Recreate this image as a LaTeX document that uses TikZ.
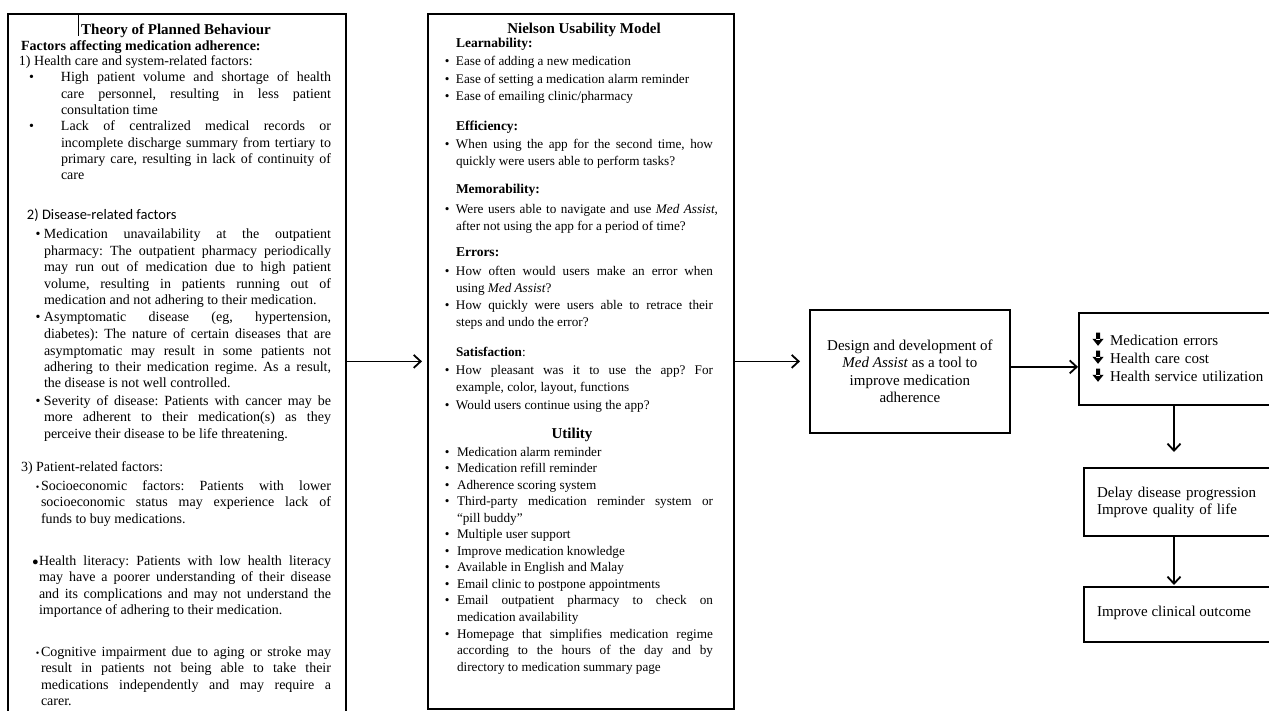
\documentclass[tikz,border=0pt]{standalone}
\usepackage{fontspec}
\setmainfont{Liberation Serif}
\newfontfamily\calib{Carlito}
\usetikzlibrary{arrows.meta,calc}
\newcommand\mybul[1]{\leavevmode\llap{•\hspace{#1}}}
\newcommand\mysbul[1]{\leavevmode\llap{{\fontsize{10}{10}\selectfont •}\hspace{#1}}}
\newcommand\mybbul[1]{\leavevmode\llap{{\fontsize{11}{11}\selectfont ●}\hspace{#1}}}
\newcommand\mydarr[2]{\fill[shift={(#1,#2)}] (-2,-12.5) rectangle (2,-5) (-5.6,-6.2) -- (5.6,-6.2) -- (0,0.8) -- cycle;}
\tikzset{
  box/.style={draw, line width=1.8pt, inner sep=0pt, anchor=north west},
  arr/.style={line width=1.8pt, -{Straight Barb[length=7pt,width=13pt]}},
  tx/.style={inner sep=0pt, outer sep=0pt, anchor=base west,
    execute at begin node={\frenchspacing\tolerance=10000\hbadness=10000\hyphenpenalty=10000\relax}},
  jt/.style={tx, text width=#1, align=justify},
  lf/.style={font=\fontsize{14}{16.5}\selectfont},
  mf/.style={font=\fontsize{13.2}{17}\selectfont},
  hd/.style={font=\fontsize{13.5}{17}\selectfont\bfseries},
  ttl/.style={inner sep=0pt, anchor=base, font=\fontsize{15}{18}\selectfont\bfseries},
  rf/.style={font=\fontsize{15}{18}\selectfont},
}
\begin{document}
\begin{tikzpicture}[x=1pt,y=-1pt]
\useasboundingbox (0,0) rectangle (1269,711);
\fill[white] (0,0) rectangle (1269,711);
\clip (0,0) rectangle (1269,711);

% ---------- boxes
\node[box, minimum width=338pt, minimum height=710pt] (lbox) at (7,13) {};
\node[box, minimum width=306pt, minimum height=695pt] (mbox) at (427,13) {};
\node[box, minimum width=200pt, minimum height=123pt] (dbox) at (809,309) {};
\node[box, minimum width=200pt, minimum height=92pt] (r1) at (1078,312) {};
\node[box, minimum width=200pt, minimum height=68pt] (r2) at (1083,467) {};
\node[box, minimum width=200pt, minimum height=55pt] (r3) at (1083,586) {};

% ---------- connectors
\coordinate (vx) at (1174,0);
\draw[arr] (lbox.east |- mbox.west) -- ($(mbox.west)+(-5,0)$);
\draw[arr] (mbox.east) -- ($(mbox.east -| dbox.west)+(-9,0)$);
\draw[arr] ($(dbox.east)+(0,-4.5)$) -- ($(dbox.east -| r1.west)+(0,-4.5)$);
\draw[arr] (r1.south -| vx) -- ($(r2.north -| vx)+(0,-15)$);
\draw[arr] (r2.south -| vx) -- ($(r3.north -| vx)+(0,-1)$);

% ---------- left box
\node[ttl] (ltitle) at (176,35) {Theory of Planned Behaviour};
\draw[line width=0.8pt] (78,15) -- (78,36);
\node[tx,font=\fontsize{14}{16.5}\selectfont\bfseries] (lfac) at (21,51) {Factors affecting medication adherence:};
\node[tx,lf] (lh1) at (19,66) {1) Health care and system-related factors:};
\node[jt=270pt,font=\fontsize{14}{16.3}\selectfont] (l11) at (61,82) {\mybul{27pt}High patient volume and shortage of health\linebreak care personnel, resulting in less patient\linebreak consultation time};
\node[jt=270pt,font=\fontsize{14}{16.3}\selectfont] (l12) at (61,131) {\mybul{27pt}Lack of centralized medical records or\linebreak incomplete discharge summary from tertiary to\linebreak primary care, resulting in lack of continuity of\linebreak care};
\node[tx,font=\calib\fontsize{14.5}{17}\selectfont] (lh2) at (27,220) {2) Disease-related factors};
\node[jt=287pt,lf] (l21) at (44,239) {\mybul{3.5pt}Medication unavailability at the outpatient\linebreak pharmacy: The outpatient pharmacy periodically\linebreak may run out of medication due to high patient\linebreak volume, resulting in patients running out of\linebreak medication and not adhering to their medication.};
\node[jt=287pt,lf] (l22) at (44,322) {\mybul{3.5pt}Asymptomatic disease (eg, hypertension,\linebreak diabetes): The nature of certain diseases that are\linebreak asymptomatic may result in some patients not\linebreak adhering to their medication regime. As a result,\linebreak the disease is not well controlled.};
\node[jt=287pt,lf] (l23) at (44,405) {\mybul{3.5pt}Severity of disease: Patients with cancer may be\linebreak more adherent to their medication(s) as they\linebreak perceive their disease to be life threatening.};
\node[tx,lf] (lh3) at (21,471) {3) Patient-related factors:};
\node[jt=290pt,lf] (l31) at (41,490) {\mysbul{1.5pt}Socioeconomic factors: Patients with lower\linebreak socioeconomic status may experience lack of\linebreak funds to buy medications.};
\node[jt=292pt,lf] (l32) at (39,565) {\mybbul{0.3pt}Health literacy: Patients with low health literacy\linebreak may have a poorer understanding of their disease\linebreak and its complications and may not understand the\linebreak importance of adhering to their medication.};
\node[jt=290pt,lf] (l33) at (41,656) {\mysbul{1.5pt}Cognitive impairment due to aging or stroke may\linebreak result in patients not being able to take their\linebreak medications independently and may require a\linebreak carer.};

% ---------- middle box
\node[ttl] (mtitle) at (584,34) {Nielson Usability Model};
\node[tx,hd] (mlh) at (456,48) {Learnability:};
\node[jt=257pt,font=\fontsize{13.2}{17.5}\selectfont] (ml) at (456,66) {\mybul{6.5pt}Ease of adding a new medication\par\mybul{6.5pt}Ease of setting a medication alarm reminder\par\mybul{6.5pt}Ease of emailing clinic/pharmacy};
\node[tx,hd] (meh) at (456,131) {Efficiency:};
\node[jt=257pt,mf] (me) at (456,149) {\mybul{6.5pt}When using the app for the second time, how\linebreak quickly were users able to perform tasks?};
\node[tx,hd] (mmh) at (456,194) {Memorability:};
\node[jt=262pt,mf] (mm) at (456,214) {\mybul{6.5pt}Were users able to navigate and use \textit{Med Assist},\linebreak after not using the app for a period of time?};
\node[tx,hd] (merh) at (456,257) {Errors:};
\node[jt=257pt,mf] (mer) at (456,276) {\mybul{6.5pt}How often would users make an error when\linebreak using \textit{Med Assist}?\par\mybul{6.5pt}How quickly were users able to retrace their\linebreak steps and undo the error?};
\node[tx,mf] (msh) at (456,356) {\textbf{Satisfaction}:};
\node[jt=257pt,font=\fontsize{13.2}{17.5}\selectfont] (ms) at (456,374) {\mybul{6.5pt}How pleasant was it to use the app? For\linebreak example, color, layout, functions\par\mybul{6.5pt}Would users continue using the app?};
\node[ttl] (mutil) at (572,438) {Utility};
\node[jt=256pt,font=\fontsize{13.2}{16.55}\selectfont] (mu) at (457,456) {\mybul{7.5pt}Medication alarm reminder\par
\mybul{7.5pt}Medication refill reminder\par
\mybul{7.5pt}Adherence scoring system\par
\mybul{7.5pt}Third-party medication reminder system or\linebreak “pill buddy”\par
\mybul{7.5pt}Multiple user support\par
\mybul{7.5pt}Improve medication knowledge\par
\mybul{7.5pt}Available in English and Malay\par
\mybul{7.5pt}Email clinic to postpone appointments\par
\mybul{7.5pt}Email outpatient pharmacy to check on\linebreak medication availability\par
\mybul{7.5pt}Homepage that simplifies medication regime\linebreak according to the hours of the day and by\linebreak directory to medication summary page};

% ---------- design box
\node[inner sep=0pt, align=center, font=\fontsize{15}{17.5}\selectfont] (dtext) at (dbox.center) {Design and development of\\\textit{Med Assist} as a tool to\\improve medication\\adherence};

% ---------- right boxes
\node[tx,rf,text width=160pt,align=left] (r1t) at (1110,345) {Medication errors\\Health care cost\\Health service utilization};
\mydarr{1098}{345}
\mydarr{1098}{363}
\mydarr{1098}{381}
\node[tx,text width=170pt,align=left,font=\fontsize{15}{17}\selectfont] (r2t) at (1097,497) {Delay disease progression\\Improve quality of life};
\node[tx,rf] (r3t) at (1097,616) {Improve clinical outcome};
\end{tikzpicture}
\end{document}
